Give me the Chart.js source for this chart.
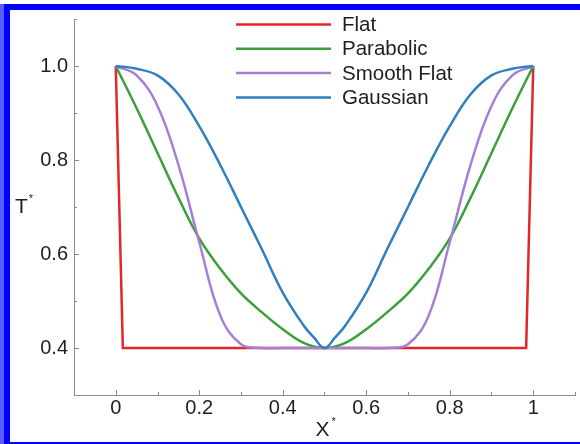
<!DOCTYPE html>
<html>
<head>
<meta charset="utf-8">
<script src="https://cdn.jsdelivr.net/npm/chart.js@4.4.1/dist/chart.umd.min.js"></script>
<style>
  html, body { margin: 0; padding: 0; background: #fff; }
  #edge { position: absolute; left: 0; top: 4px; width: 4px; height: 440px; background: #5c5cff; }
  #frame {
    position: absolute; left: 4px; top: 4px; width: 576px; height: 440px;
    box-sizing: border-box;
    border-left: 6px solid #0000ff; border-top: 6px solid #0000ff; border-bottom: 2px solid #0000ff;
  }
  #wrap { position: absolute; left: 0; top: 0; width: 580px; height: 444px; }
</style>
</head>
<body>
<div id="edge"></div>
<div id="frame"></div>
<div id="wrap"><canvas id="profiles" width="580" height="444"></canvas></div>
<script>
// X* positions along the inlet
const profileX = [0, 0.05, 0.1, 0.15, 0.2, 0.25, 0.3, 0.35, 0.4, 0.45, 0.5,
                  0.55, 0.6, 0.65, 0.7, 0.75, 0.8, 0.85, 0.9, 0.95, 1];
const gaussX = [0, 0.05, 0.1, 0.15, 0.2, 0.25, 0.3, 0.35, 0.4, 0.45, 0.475, 0.5,
                0.525, 0.55, 0.6, 0.65, 0.7, 0.75, 0.8, 0.85, 0.9, 0.95, 1];

// T* for each profile
const flatX = [0, 0.017, 0.983, 1];
const flatT = [1.0, 0.4, 0.4, 1.0];
const parabolicT = [1.0, 0.91, 0.815, 0.72, 0.633, 0.569, 0.516, 0.476, 0.44, 0.411, 0.40,
                    0.411, 0.44, 0.476, 0.516, 0.569, 0.633, 0.72, 0.815, 0.91, 1.0];
const smoothFlatT = [1.0, 0.98, 0.915, 0.79, 0.625, 0.47, 0.408, 0.40, 0.40, 0.40, 0.40,
                     0.40, 0.40, 0.40, 0.408, 0.47, 0.625, 0.79, 0.915, 0.98, 1.0];
const gaussianT = [1.0, 0.994, 0.98, 0.94, 0.872, 0.79, 0.70, 0.61, 0.518, 0.448, 0.422, 0.40,
                   0.422, 0.448, 0.518, 0.61, 0.70, 0.79, 0.872, 0.94, 0.98, 0.994, 1.0];

const xTicks = [0, 0.2, 0.4, 0.6, 0.8, 1];
const xMinorTicks = [-0.1, 0.1, 0.3, 0.5, 0.7, 0.9, 1.1];
const yTicks = [0.4, 0.6, 0.8, 1.0];
const yMinorTicks = [0.3, 0.5, 0.7, 0.9, 1.1];

const FONT = "'Liberation Sans', Arial, sans-serif";
const AXIS_GREY = "#8c8c8c";
const TEXT = "#1e1e1e";

const toPoints = (xs, ys) => xs.map((x, i) => ({x: x, y: ys[i]}));

// inward tick marks, horizontal axis titles and the legend block
const decorations = {
  id: "decorations",
  afterDraw(chart) {
    const {ctx, chartArea} = chart;
    const x = chart.scales.x;
    const y = chart.scales.y;

    ctx.save();
    ctx.strokeStyle = AXIS_GREY;
    ctx.lineWidth = 1;
    const xTick = (v, len) => {
      const px = Math.round(x.getPixelForValue(v)) + 0.5;
      ctx.beginPath();
      ctx.moveTo(px, chartArea.bottom);
      ctx.lineTo(px, chartArea.bottom - len);
      ctx.stroke();
    };
    const yTick = (v, len) => {
      const py = Math.round(y.getPixelForValue(v)) + 0.5;
      ctx.beginPath();
      ctx.moveTo(chartArea.left, py);
      ctx.lineTo(chartArea.left + len, py);
      ctx.stroke();
    };
    xTicks.forEach(v => xTick(v, 5));
    xMinorTicks.forEach(v => xTick(v, 3));
    yTicks.forEach(v => yTick(v, 5));
    yMinorTicks.forEach(v => yTick(v, 3));

    // axis titles with starred superscripts
    ctx.fillStyle = TEXT;
    ctx.textBaseline = "middle";
    ctx.textAlign = "left";
    const midY = (chartArea.top + chartArea.bottom) / 2;
    ctx.font = "21px " + FONT;
    ctx.fillText("T", 15, midY);
    const tw = ctx.measureText("T").width;
    ctx.font = "11px " + FONT;
    ctx.fillText("*", 15 + tw + 1, midY - 8);

    const midX = (chartArea.left + chartArea.right) / 2;
    ctx.font = "21px " + FONT;
    const xw = ctx.measureText("X").width;
    ctx.fillText("X", midX - xw / 2 - 2, 430);
    ctx.font = "11px " + FONT;
    ctx.fillText("*", midX + xw / 2, 422);

    // legend
    const lineStart = chartArea.left + 162;
    const lineEnd = chartArea.left + 257;
    ctx.font = "20.5px " + FONT;
    chart.data.datasets.forEach((ds, i) => {
      const rowY = chartArea.top + 5.5 + i * 24.3;
      ctx.strokeStyle = ds.borderColor;
      ctx.lineWidth = 2.5;
      ctx.beginPath();
      ctx.moveTo(lineStart, rowY);
      ctx.lineTo(lineEnd, rowY);
      ctx.stroke();
      ctx.fillStyle = TEXT;
      ctx.fillText(ds.label, lineEnd + 11, rowY + 1);
    });
    ctx.restore();
  }
};

const smooth = {tension: 0.4, pointRadius: 0, borderWidth: 2.5, fill: false};

new Chart(document.getElementById("profiles"), {
  type: "line",
  data: {
    datasets: [
      {label: "Flat", data: toPoints(flatX, flatT), borderColor: "#e2262b",
       tension: 0, pointRadius: 0, borderWidth: 2.5, order: 4},
      {label: "Parabolic", data: toPoints(profileX, parabolicT), borderColor: "#3aa13a", order: 3, ...smooth},
      {label: "Smooth Flat", data: toPoints(profileX, smoothFlatT), borderColor: "#a57fd6", order: 2, ...smooth},
      {label: "Gaussian", data: toPoints(gaussX, gaussianT), borderColor: "#2e80c0", order: 1, ...smooth}
    ]
  },
  options: {
    responsive: false,
    animation: false,
    devicePixelRatio: 1,
    layout: {padding: {top: 19, right: 5, left: 0, bottom: 0}},
    plugins: {legend: {display: false}, tooltip: {enabled: false}},
    scales: {
      x: {
        type: "linear",
        min: -0.1,
        max: 1.1,
        afterBuildTicks: scale => { scale.ticks = xTicks.map(v => ({value: v})); },
        afterFit: scale => { scale.height = 49; },
        grid: {display: false, drawTicks: false},
        border: {display: true, color: AXIS_GREY, width: 1},
        ticks: {
          padding: 1,
          color: TEXT,
          font: {family: FONT, size: 20},
          callback: v => String(v)
        }
      },
      y: {
        type: "linear",
        min: 0.3,
        max: 1.1,
        afterBuildTicks: scale => { scale.ticks = yTicks.map(v => ({value: v})); },
        afterFit: scale => { scale.width = 74; },
        grid: {display: false, drawTicks: false},
        border: {display: true, color: AXIS_GREY, width: 1},
        ticks: {
          padding: 6,
          color: TEXT,
          font: {family: FONT, size: 20},
          callback: v => v.toFixed(1)
        }
      }
    }
  },
  plugins: [decorations]
});
</script>
</body>
</html>
